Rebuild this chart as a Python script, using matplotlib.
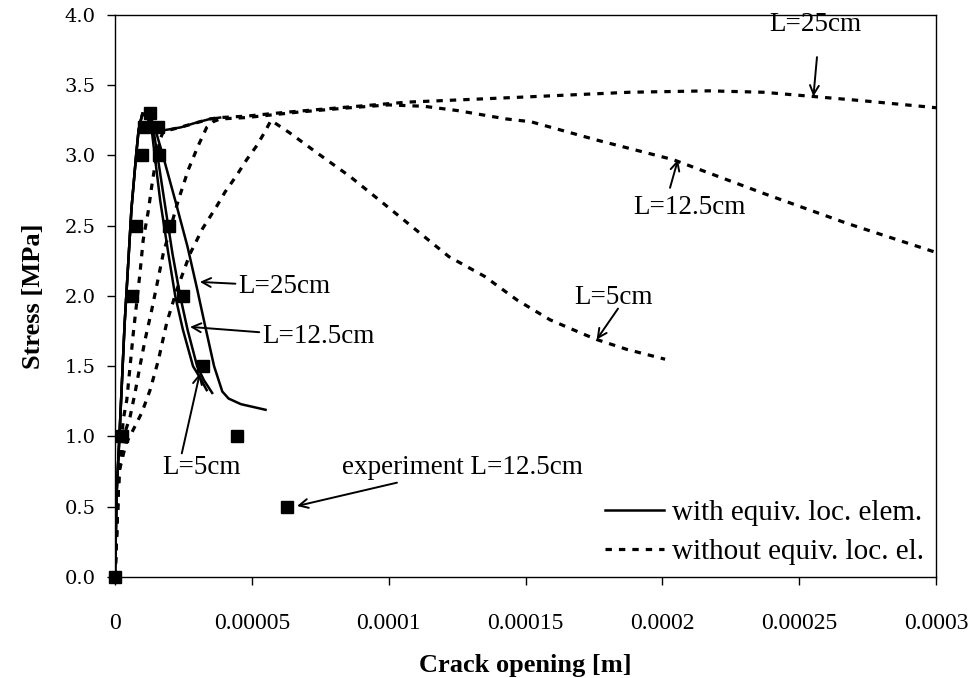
import matplotlib
matplotlib.use('Agg')
import matplotlib.pyplot as plt
from matplotlib.ticker import FixedLocator, FixedFormatter

# ---- "with equiv. loc. elem." (solid) ----
rise_x = [0, 0.6e-6, 1.6e-6, 3.5e-6, 6.0e-6, 7.7e-6, 8.6e-6, 1.0e-5]
rise_y = [0, 0.6, 1.0, 1.8, 2.62, 3.0, 3.18, 3.3]

with_L5_x = rise_x + [1.3e-5, 1.45e-5, 1.65e-5, 1.95e-5, 2.2e-5, 2.48e-5, 2.85e-5, 3.1e-5, 3.35e-5]
with_L5_y = rise_y + [3.25, 3.0, 2.68, 2.3, 2.0, 1.76, 1.5, 1.42, 1.33]

with_L12_x = rise_x + [1.35e-5, 1.55e-5, 1.8e-5, 2.1e-5, 2.38e-5, 2.65e-5, 3.0e-5, 3.25e-5, 3.55e-5]
with_L12_y = rise_y + [3.25, 3.0, 2.68, 2.3, 2.0, 1.76, 1.5, 1.4, 1.31]

with_L25_x = rise_x + [1.45e-5, 1.75e-5, 2.2e-5, 2.65e-5, 3.0e-5, 3.3e-5, 3.62e-5, 3.92e-5, 4.15e-5, 4.6e-5, 5.5e-5]
with_L25_y = rise_y + [3.2, 3.0, 2.68, 2.35, 2.05, 1.78, 1.5, 1.32, 1.27, 1.23, 1.19]

plateau_x = [1.45e-5, 1.8e-5, 2.4e-5, 2.9e-5, 3.47e-5, 3.84e-5]
plateau_y = [3.18, 3.18, 3.2, 3.23, 3.26, 3.27]

# ---- "without equiv. loc. el." (dashed) ----
wo_L25_x = [0, 1.5e-6, 3.0e-6, 4.3e-6, 5.5e-6, 6.7e-6, 7.9e-6, 9.1e-6, 1.03e-5, 1.22e-5,
            1.34e-5, 1.46e-5, 1.64e-5, 1.76e-5, 2.37e-5, 3.47e-5, 3.84e-5, 4.81e-5, 5.3e-5,
            6.39e-5, 8.22e-5, 1.07e-4, 1.31e-4, 1.54e-4, 1.88e-4, 2.17e-4, 2.37e-4, 2.55e-4,
            2.73e-4, 3.0e-4]
wo_L25_y = [0, 0.75, 1.12, 1.26, 1.5, 1.74, 1.95, 2.16, 2.4, 2.61,
            2.78, 2.93, 3.11, 3.17, 3.2, 3.26, 3.27, 3.28, 3.29,
            3.31, 3.34, 3.38, 3.40, 3.42, 3.45, 3.46, 3.45, 3.42,
            3.39, 3.34]

wo_L12_x = [0, 1.5e-6, 3.5e-6, 5.5e-6, 7.3e-6, 9.1e-6, 1.1e-5, 1.34e-5, 1.52e-5, 1.76e-5,
            2.31e-5, 2.68e-5, 3.04e-5, 3.35e-5, 3.58e-5, 3.84e-5, 4.81e-5, 6.76e-5, 8.59e-5,
            1.0e-4, 1.13e-4, 1.25e-4, 1.43e-4, 1.52e-4, 1.76e-4, 2.04e-4, 2.37e-4, 2.67e-4, 3.0e-4]
wo_L12_y = [0, 0.75, 1.02, 1.14, 1.31, 1.5, 1.69, 1.9, 2.07, 2.3,
            2.68, 2.9, 3.07, 3.2, 3.24, 3.26, 3.27, 3.31, 3.34,
            3.36, 3.35, 3.32, 3.26, 3.24, 3.11, 2.97, 2.73, 2.52, 2.31]

wo_L5_x = [0, 1.5e-6, 4.0e-6, 6.7e-6, 9.8e-6, 1.28e-5, 1.58e-5, 1.89e-5, 2.25e-5, 2.74e-5,
           3.2e-5, 3.72e-5, 4.02e-5, 4.45e-5, 4.81e-5, 5.18e-5, 5.48e-5, 5.7e-5, 6.39e-5,
           7.37e-5, 8.59e-5, 9.8e-5, 1.10e-4, 1.22e-4, 1.35e-4, 1.47e-4, 1.59e-4, 1.71e-4,
           1.76e-4, 1.87e-4, 2.01e-4]
wo_L5_y = [0, 0.75, 0.95, 1.05, 1.17, 1.33, 1.54, 1.81, 2.04, 2.30,
           2.48, 2.64, 2.74, 2.86, 2.97, 3.07, 3.17, 3.25, 3.16,
           3.02, 2.85, 2.66, 2.47, 2.28, 2.14, 1.97, 1.83, 1.73,
           1.69, 1.62, 1.55]

# ---- experiment L=12.5cm ----
exp_x = [0, 2.4e-6, 6.1e-6, 7.7e-6, 9.8e-6, 1.05e-5, 1.28e-5, 1.58e-5, 1.62e-5,
         1.98e-5, 2.5e-5, 3.22e-5, 4.47e-5, 6.28e-5]
exp_y = [0, 1.0, 2.0, 2.5, 3.0, 3.2, 3.3, 3.2, 3.0, 2.5, 2.0, 1.5, 1.0, 0.5]

x_ticks = [0, 0.00005, 0.0001, 0.00015, 0.0002, 0.00025, 0.0003]
x_labels = ["0", "0.00005", "0.0001", "0.00015", "0.0002", "0.00025", "0.0003"]
y_ticks = [0.0, 0.5, 1.0, 1.5, 2.0, 2.5, 3.0, 3.5, 4.0]
y_labels = ["0.0", "0.5", "1.0", "1.5", "2.0", "2.5", "3.0", "3.5", "4.0"]

SERIF = "Liberation Serif"

fig = plt.figure(figsize=(9.74, 6.78), dpi=100)
ax = fig.add_axes([0.1181, 0.149, 0.8429, 0.8289])

sol = dict(color='black', lw=1.8, solid_joinstyle='round')
dsh = dict(color='black', lw=2.3, linestyle=(0, (2.0, 2.2)))

ax.plot(with_L5_x, with_L5_y, **sol, label='with equiv. loc. elem.')
ax.plot(with_L12_x, with_L12_y, **sol)
ax.plot(with_L25_x, with_L25_y, **sol)
ax.plot(plateau_x, plateau_y, **sol)

ax.plot(wo_L5_x, wo_L5_y, **dsh, label='without equiv. loc. el.')
ax.plot(wo_L12_x, wo_L12_y, **dsh)
ax.plot(wo_L25_x, wo_L25_y, **dsh)

ax.plot(exp_x, exp_y, linestyle='none', marker='s', markersize=9,
        color='black', clip_on=False, zorder=5)

ax.set_xlim(0, 0.0003)
ax.set_ylim(0, 4.0)
ax.xaxis.set_major_locator(FixedLocator(x_ticks))
ax.xaxis.set_major_formatter(FixedFormatter(x_labels))
ax.yaxis.set_major_locator(FixedLocator(y_ticks))
ax.yaxis.set_major_formatter(FixedFormatter(y_labels))
ax.tick_params(axis='x', direction='out', length=6, width=1, pad=20, labelsize=17)
ax.tick_params(axis='y', direction='out', length=6, width=1, pad=8, labelsize=14)
for lab in ax.get_xticklabels():
    lab.set_fontfamily(SERIF)
for lab in ax.get_yticklabels():
    lab.set_fontfamily("DejaVu Serif")
for sp in ax.spines.values():
    sp.set_linewidth(1.0)
    sp.set_color('black')

ax.set_xlabel("Crack opening [m]", fontfamily=SERIF, fontweight='bold', fontsize=19, labelpad=14)
ax.set_ylabel("Stress [MPa]", fontfamily=SERIF, fontweight='bold', fontsize=19, labelpad=14)

ap = dict(arrowstyle='->', color='black', lw=1.4, mutation_scale=16, shrinkA=0, shrinkB=0)
FS = 19.5
tf = dict(fontfamily=SERIF, fontsize=FS)

ax.annotate("L=25cm", xy=(3.1e-5, 2.10), xytext=(4.5e-5, 2.07), ha='left', va='center', arrowprops=ap, **tf)
ax.annotate("L=12.5cm", xy=(2.74e-5, 1.78), xytext=(5.37e-5, 1.71), ha='left', va='center', arrowprops=ap, **tf)
ax.annotate("", xy=(3.1e-5, 1.45), xytext=(2.44e-5, 0.88), arrowprops=ap)
ax.text(3.17e-5, 0.78, "L=5cm", ha='center', va='center', **tf)
ax.annotate("experiment L=12.5cm", xy=(6.65e-5, 0.505), xytext=(8.29e-5, 0.78), ha='left', va='center',
            arrowprops=ap, **tf)
ax.annotate("", xy=(1.76e-4, 1.69), xytext=(1.838e-4, 1.91), arrowprops=ap)
ax.text(1.823e-4, 1.99, "L=5cm", ha='center', va='center', **tf)
ax.annotate("", xy=(2.057e-4, 2.97), xytext=(2.028e-4, 2.77), arrowprops=ap)
ax.text(2.10e-4, 2.63, "L=12.5cm", ha='center', va='center', **tf)
ax.annotate("", xy=(2.552e-4, 3.42), xytext=(2.565e-4, 3.70), arrowprops=ap)
ax.text(2.558e-4, 3.93, "L=25cm", ha='center', va='center', **tf)

leg = ax.legend(loc='lower right', frameon=False, prop=dict(family=SERIF, size=21),
                handlelength=2.0, handletextpad=0.3, labelspacing=0.45,
                borderaxespad=0.15, borderpad=0.25)

fig.savefig("out.png", dpi=100)
